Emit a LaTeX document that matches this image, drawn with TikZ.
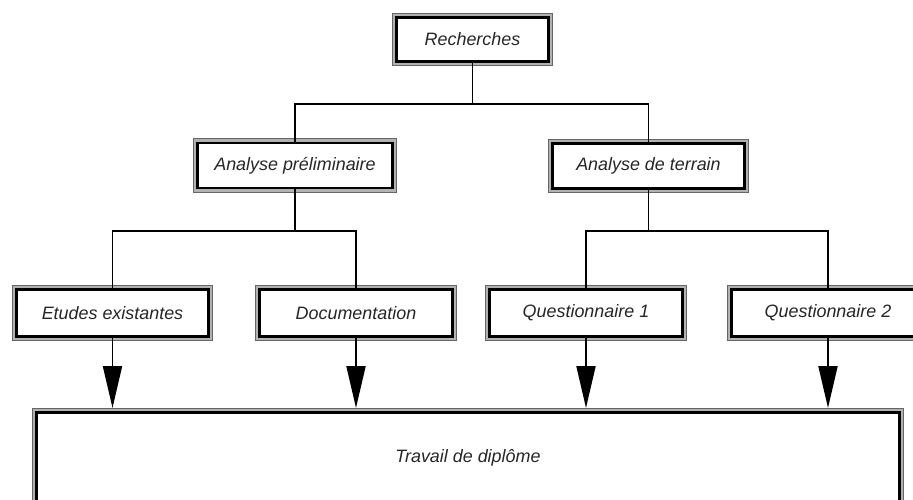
\documentclass[tikz,border=0pt]{standalone}
\usepackage{fontspec}
\setmainfont{Liberation Sans}
\usetikzlibrary{arrows.meta}
\usetikzlibrary{calc}

\tikzset{
  boite/.style={draw=black, line width=1.7pt, fill=white, inner sep=0pt,
    preaction={draw=black!60, line width=5.3pt},
    preaction={draw=black!30, line width=4.3pt},
    font=\fontsize{10.2pt}{12pt}\selectfont\itshape, text=black!85},
  lien/.style={line width=1.1pt},
  fleche/.style={line width=1.1pt, -{Triangle[length=0.84cm,width=0.38cm]}, shorten >=0.06cm}
}

\begin{document}
\begin{tikzpicture}[x=0.02cm,y=-0.02cm]
				\useasboundingbox (0,0) rectangle (913,500);
				% Boîtes
				\node[boite,minimum width=3.04cm,minimum height=0.88cm] (rech) at (472.5,39.5) {Recherches};
				\node[boite,minimum width=3.9cm,minimum height=0.9cm] (prelim) at (295,165.5) {Analyse préliminaire};
				\node[boite,minimum width=3.84cm,minimum height=0.9cm] (terrain) at (648.5,166) {Analyse de terrain};
				\node[boite,minimum width=3.84cm,minimum height=0.94cm] (etudes) at (112.5,313) {Etudes existantes};
				\node[boite,minimum width=3.86cm,minimum height=0.94cm] (docu) at (356,313) {Documentation};
				\node[boite,minimum width=3.86cm,minimum height=0.94cm] (quest1) at (586,313) {Questionnaire 1};
				\node[boite,minimum width=3.86cm,minimum height=0.94cm] (quest2) at (828,313) {Questionnaire 2};
				\node[boite,minimum width=17.26cm,minimum height=1.82cm] (diplome) at (468,458) {Travail de diplôme};
				% Liens
				\coordinate (b1) at (472.5,104);
				\coordinate (b2) at (295,231);
				\coordinate (b3) at (648.5,231);
				\draw [lien] (rech.south) -- (b1);
				\draw [lien] (prelim.north) |- (b1) -| (terrain.north);
				\draw [lien] (prelim.south) -- (b2);
				\draw [lien] (etudes.north) |- (b2) -| (docu.north);
				\draw [lien] (terrain.south) -- (b3);
				\draw [lien] (quest1.north) |- (b3) -| (quest2.north);
				% Flèches
				\foreach \n in {etudes,docu,quest1,quest2}
				  \draw [fleche] (\n.south) -- (\n.south |- diplome.north);
\end{tikzpicture}
\end{document}
